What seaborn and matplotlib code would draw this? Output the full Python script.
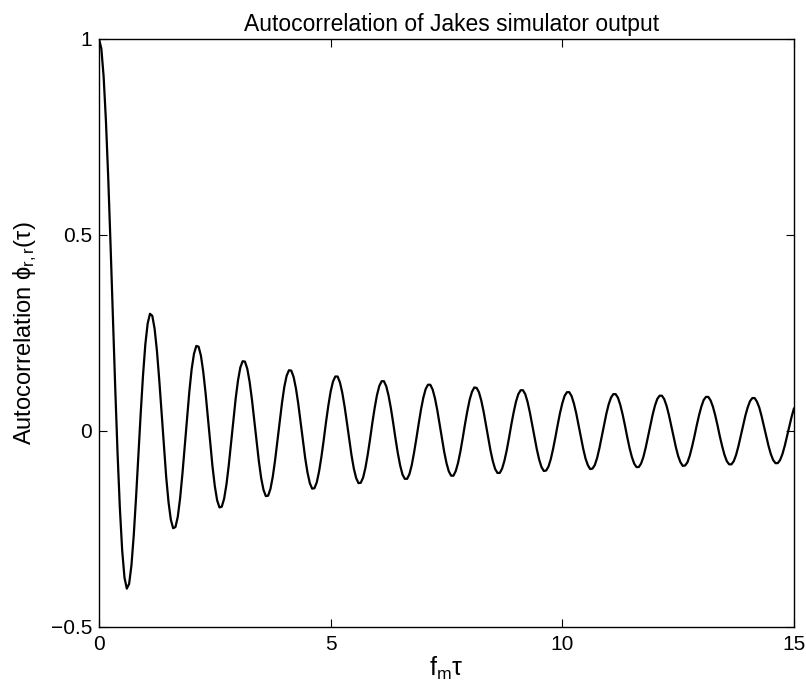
import matplotlib
matplotlib.use("Agg")
import matplotlib.pyplot as plt
import seaborn as sns
import pandas as pd

# normalized lag f_m * tau, sampled every 0.05 from 0 to 15
tau = [round(0.05 * i, 2) for i in range(301)]

# autocorrelation values (one row per unit of f_m*tau)
acf = [
    1.000, 0.976, 0.904, 0.790, 0.643, 0.472, 0.291, 0.111, -0.055, -0.196,
    -0.304, -0.374, -0.402, -0.390, -0.343, -0.266, -0.169, -0.062, 0.045, 0.142,
    0.221, 0.274, 0.299, 0.294, 0.261, 0.205, 0.131, 0.047, -0.038, -0.117,
    -0.181, -0.226, -0.248, -0.245, -0.219, -0.172, -0.110, -0.039, 0.034, 0.101,
    0.158, 0.197, 0.217, 0.215, 0.192, 0.151, 0.097, 0.034, -0.031, -0.091,
    -0.141, -0.177, -0.195, -0.193, -0.173, -0.137, -0.088, -0.031, 0.028, 0.083,
    0.129, 0.162, 0.178, 0.177, 0.159, 0.126, 0.081, 0.028, -0.026, -0.077,
    -0.120, -0.150, -0.166, -0.165, -0.148, -0.117, -0.075, -0.026, 0.024, 0.072,
    0.113, 0.141, 0.155, 0.154, 0.138, 0.109, 0.070, 0.024, -0.024, -0.069,
    -0.106, -0.133, -0.147, -0.146, -0.131, -0.103, -0.066, -0.023, 0.023, 0.065,
    0.101, 0.126, 0.139, 0.139, 0.124, 0.098, 0.063, 0.022, -0.021, -0.062,
    -0.096, -0.120, -0.133, -0.132, -0.119, -0.094, -0.060, -0.021, 0.021, 0.059,
    0.092, 0.115, 0.127, 0.127, 0.114, 0.090, 0.058, 0.020, -0.020, -0.057,
    -0.088, -0.111, -0.122, -0.122, -0.110, -0.087, -0.055, -0.019, 0.019, 0.055,
    0.085, 0.107, 0.118, 0.118, 0.106, 0.084, 0.054, 0.018, -0.018, -0.053,
    -0.082, -0.103, -0.114, -0.114, -0.102, -0.081, -0.052, -0.018, 0.018, 0.051,
    0.080, 0.100, 0.111, 0.110, 0.099, 0.078, 0.050, 0.017, -0.017, -0.050,
    -0.077, -0.097, -0.107, -0.107, -0.096, -0.076, -0.049, -0.017, 0.017, 0.048,
    0.075, 0.094, 0.104, 0.104, 0.094, 0.074, 0.047, 0.016, -0.016, -0.047,
    -0.073, -0.092, -0.102, -0.101, -0.091, -0.072, -0.046, -0.016, 0.016, 0.046,
    0.071, 0.090, 0.099, 0.099, 0.089, 0.070, 0.045, 0.015, -0.015, -0.045,
    -0.070, -0.087, -0.097, -0.096, -0.087, -0.069, -0.044, -0.015, 0.015, 0.044,
    0.068, 0.085, 0.094, 0.094, 0.085, 0.067, 0.043, 0.015, -0.015, -0.043,
    -0.066, -0.083, -0.092, -0.092, -0.083, -0.066, -0.042, -0.014, 0.014, 0.042,
    0.065, 0.082, 0.090, 0.090, 0.081, 0.064, 0.041, 0.014, -0.014, -0.041,
    -0.064, -0.080, -0.089, -0.088, -0.080, -0.063, -0.040, -0.014, 0.014, 0.040,
    0.062, 0.079, 0.087, 0.087, 0.078, 0.062, 0.040, 0.014, -0.014, -0.039,
    -0.061, -0.077, -0.085, -0.085, -0.077, -0.061, -0.039, -0.013, 0.013, 0.039,
    0.060, 0.076, 0.084, 0.084, 0.075, 0.060, 0.038, 0.013, -0.013, -0.038,
    -0.059, -0.074, -0.082, -0.082, -0.074, -0.059, -0.038, -0.013, 0.013, 0.037,
    0.058,
]

x_ticks = [0, 5, 10, 15]
y_ticks = [-0.5, 0, 0.5, 1]
y_tick_labels = ["\u22120.5", "0", "0.5", "1"]

df = pd.DataFrame({"tau": tau, "acf": acf})

sns.set_theme(style="white")
plt.rcParams["font.family"] = ["Liberation Sans", "DejaVu Sans"]
plt.rcParams["mathtext.fontset"] = "custom"
plt.rcParams["mathtext.rm"] = "Liberation Sans"
plt.rcParams["mathtext.it"] = "Liberation Sans"
plt.rcParams["mathtext.default"] = "regular"
plt.rcParams["text.color"] = "black"
plt.rcParams["axes.labelcolor"] = "black"
plt.rcParams["axes.titlecolor"] = "black"

fig = plt.figure(figsize=(8.06, 6.83), dpi=100)
ax = fig.add_axes([99 / 806, 56 / 683, 695 / 806, 588 / 683])

sns.lineplot(data=df, x="tau", y="acf", ax=ax, color="black", linewidth=1.6,
             sort=False, estimator=None)

ax.set_xlim(0, 15)
ax.set_ylim(-0.5, 1)
ax.set_xticks(x_ticks)
ax.set_xticklabels([str(t) for t in x_ticks])
ax.set_yticks(y_ticks)
ax.set_yticklabels(y_tick_labels)

ax.tick_params(direction="in", length=6, width=0.8, colors="black",
               labelsize=15, top=True, right=True, bottom=True, left=True)
ax.tick_params(axis="x", pad=6)
ax.tick_params(axis="y", pad=5)
for s in ax.spines.values():
    s.set_visible(True)
    s.set_color("black")
    s.set_linewidth(1.0)

ax.set_title("Autocorrelation of Jakes simulator output", fontsize=16.5,
             pad=6, x=0.508, color="black")
ax.set_xlabel(r"$f_m\tau$", fontsize=18, labelpad=0, color="black")
ax.set_ylabel(r"Autocorrelation $\phi_{r,r}(\tau)$", fontsize=17, color="black")
ax.yaxis.set_label_coords(-0.087, 0.5)

fig.savefig("out.png", dpi=100, facecolor="white")
